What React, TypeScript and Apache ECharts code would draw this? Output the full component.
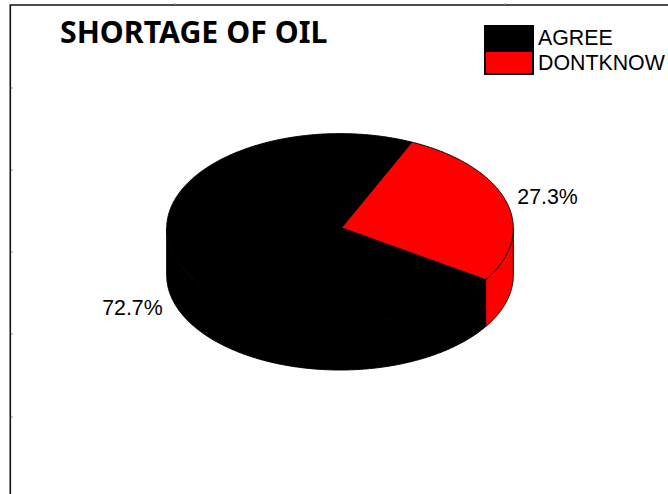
import React, { useEffect, useRef } from "react";
import * as echarts from "echarts";

const categories = ["AGREE", "DONTKNOW"];
const percents = [72.7, 27.3];
const sliceColors = ["#000000", "#ff0000"];
const titleText = "SHORTAGE OF OIL";
const leftTicks = [88, 170, 252, 334, 417];
const topTicks = [175, 505];

const CX = 340;
const CY = 228.3;
const RX = 173.3;
const RY = 94.7;
const DEPTH = 47;
const VERTEX_X = 341.6;
const VERTEX_Y = 227.8;
const FIRST_SLICE_START = 122.8;
const LABEL_FONT = '21.33px "Liberation Sans", Arial, sans-serif';

const px = (deg: number) => CX + RX * Math.sin((deg * Math.PI) / 180);
const py = (deg: number) => CY - RY * Math.cos((deg * Math.PI) / 180);

function arcPoints(from: number, to: number, dy = 0): number[][] {
  const pts: number[][] = [];
  const n = Math.max(2, Math.ceil(Math.abs(to - from) * 2));
  for (let i = 0; i <= n; i++) {
    const a = from + ((to - from) * i) / n;
    pts.push([px(a), py(a) + dy]);
  }
  return pts;
}

function sliceRange(idx: number, value: number) {
  let start = FIRST_SLICE_START;
  for (let i = 0; i < idx; i++) start += (percents[i] / 100) * 360;
  return [start, start + (value / 100) * 360];
}

function wallPolygons(start: number, end: number) {
  // Front of the disc spans 90..270 degrees (mod 360).
  const out: number[][][] = [];
  for (const shift of [0, 360]) {
    const a = Math.max(start, 90 + shift);
    const b = Math.min(end, 270 + shift);
    if (b > a) {
      out.push([...arcPoints(a, b), ...arcPoints(b, a, DEPTH)]);
    }
  }
  return out;
}

function makeRenderItem(idx: number, wallOnly: boolean) {
  return (_params: any, api: any) => {
    const value = api.value(0);
    const [start, end] = sliceRange(idx, value);
    const style = { fill: sliceColors[idx], stroke: "#000000", lineWidth: 1 };
    if (wallOnly) {
      return {
        type: "group",
        children: wallPolygons(start, end).map((points) => ({
          type: "polygon",
          shape: { points },
          style,
        })),
      };
    }
    const mid = (start + end) / 2;
    const front = Math.cos((mid * Math.PI) / 180) < 0 && mid > 180;
    const right = Math.sin((mid * Math.PI) / 180) > 0;
    return {
      type: "group",
      children: [
        {
          type: "polygon",
          shape: { points: [[VERTEX_X, VERTEX_Y], ...arcPoints(start, end)] },
          style,
        },
        {
          type: "text",
          style: {
            text: `${value.toFixed(1)}%`,
            x: px(mid) + (right ? 11 : -11),
            y: py(mid) + (front ? DEPTH + 6 : -5),
            align: right ? "left" : "right",
            verticalAlign: "middle",
            font: LABEL_FONT,
            fill: "#000000",
          },
        },
      ],
    };
  };
}

export default function App() {
  const ref = useRef<HTMLDivElement>(null);
  useEffect(() => {
    if (!ref.current) return;
    const chart = echarts.init(ref.current, undefined, { renderer: "svg" });
    const seriesFor = (wallOnly: boolean) =>
      categories.map((name, idx) => ({
        type: "custom",
        name,
        coordinateSystem: "none",
        silent: true,
        z: wallOnly ? 2 : 3,
        itemStyle: {
          color: sliceColors[idx],
          borderColor: "#000000",
          borderWidth: 1,
        },
        renderItem: makeRenderItem(idx, wallOnly),
        data: [[percents[idx]]],
      }));
    chart.setOption({
      animation: false,
      backgroundColor: "#ffffff",
      title: {
        text: titleText,
        left: 55,
        top: 11,
        textStyle: {
          fontFamily: '"Noto Sans", sans-serif',
          fontWeight: 700,
          fontSize: 30.3,
          color: "#000000",
        },
      },
      legend: {
        orient: "vertical",
        left: 479,
        top: 20,
        itemWidth: 48,
        itemHeight: 23,
        itemGap: 0,
        icon: "rect",
        selectedMode: false,
        data: categories,
        textStyle: {
          fontFamily: '"Liberation Sans", Arial, sans-serif',
          fontSize: 21.33,
          color: "#000000",
          padding: [0, 0, 0, 0],
        },
      },
      graphic: [
        {
          type: "polyline",
          silent: true,
          shape: { points: [[10.3, 494], [10.3, 5], [668, 5]] },
          style: { stroke: "#111111", lineWidth: 1.6, fill: "none" },
        },
        ...leftTicks.map((y) => ({
          type: "line",
          silent: true,
          shape: { x1: 11, y1: y, x2: 13, y2: y },
          style: { stroke: "#999999", lineWidth: 1 },
        })),
        ...topTicks.map((x) => ({
          type: "line",
          silent: true,
          shape: { x1: x, y1: 3, x2: x, y2: 5 },
          style: { stroke: "#999999", lineWidth: 1 },
        })),
      ],
      series: [...seriesFor(true), ...seriesFor(false)],
    });
    return () => chart.dispose();
  }, []);
  return (
    <div
      ref={ref}
      style={{ position: "absolute", left: 0, top: 0, width: 668, height: 494 }}
    />
  );
}
